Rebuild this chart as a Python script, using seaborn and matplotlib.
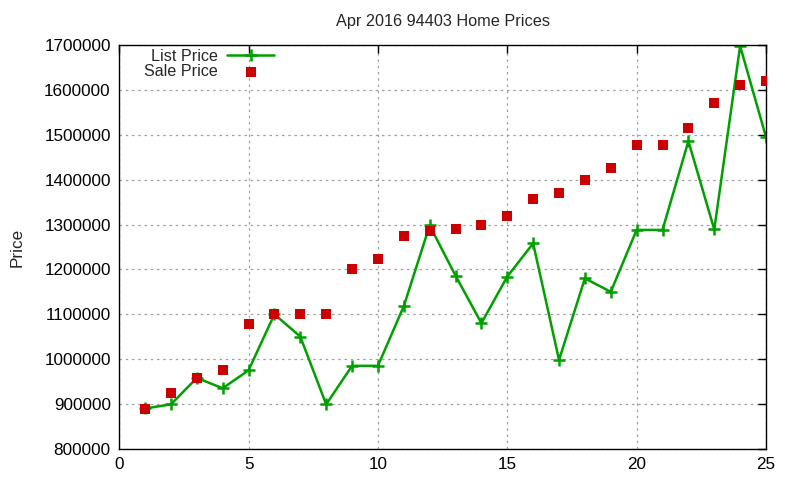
import matplotlib
matplotlib.use('Agg')
import matplotlib.pyplot as plt
import seaborn as sns
import pandas as pd

sns.set_style('white')
plt.rcParams['font.family'] = ['Liberation Sans', 'DejaVu Sans']

# Data
months = list(range(1, 26))
list_price = [890000, 899000, 958000, 935000, 975000, 1100000, 1050000, 899000,
              985000, 985000, 1118000, 1298000, 1186000, 1080000, 1184000, 1258000,
              998000, 1180000, 1150000, 1288000, 1288000, 1486000, 1289000, 1698000,
              1495000]
sale_price = [888000, 925000, 958000, 975000, 1078000, 1100000, 1100000, 1100000,
              1200000, 1224000, 1274000, 1285000, 1290000, 1299000, 1319000, 1356000,
              1370000, 1400000, 1425000, 1478000, 1478000, 1515000, 1570000, 1610000,
              1620000]
data = pd.DataFrame({'x': months, 'list': list_price, 'sale': sale_price})

GREEN = '#00a000'
RED = '#cc0000'

fig = plt.figure(figsize=(8, 4.8), dpi=100)
ax = fig.add_axes([0.149, 0.065, 0.8085, 0.841])

sns.lineplot(data=data, x='x', y='list', ax=ax, color=GREEN, linewidth=1.8,
             marker='+', markersize=9, markeredgewidth=1.8,
             markeredgecolor=GREEN, label='List Price')
sns.scatterplot(data=data, x='x', y='sale', ax=ax, color=RED, marker='s',
                s=45, linewidth=0, label='Sale Price', zorder=3)

ax.set_xlim(0, 25)
ax.set_ylim(800000, 1700000)
ax.set_xticks(range(0, 26, 5))
ax.set_yticks(range(800000, 1700001, 100000))
ax.ticklabel_format(style='plain', axis='y')
ax.grid(True, color='#a0a0a0', linestyle=(0, (2, 3)), linewidth=0.9)
for s in ax.spines.values():
    s.set_color('black')
    s.set_linewidth(1.0)
ax.tick_params(direction='in', length=6, width=1, top=True, right=True,
               labelsize=12.3, colors='black', pad=6)

ax.set_xlabel('')
ax.set_ylabel('Price', fontsize=12.3, labelpad=14)
ax.set_title('Apr 2016 94403 Home Prices', fontsize=11.7, pad=14)

leg = ax.legend(loc='upper left', frameon=False, markerfirst=False,
                fontsize=11.6, handlelength=2.9, handletextpad=0.6,
                borderaxespad=0.0, labelspacing=0.02,
                bbox_to_anchor=(0.028, 1.007))
for t in leg.get_texts():
    t.set_ha('right')

fig.savefig('out.png', dpi=100)
